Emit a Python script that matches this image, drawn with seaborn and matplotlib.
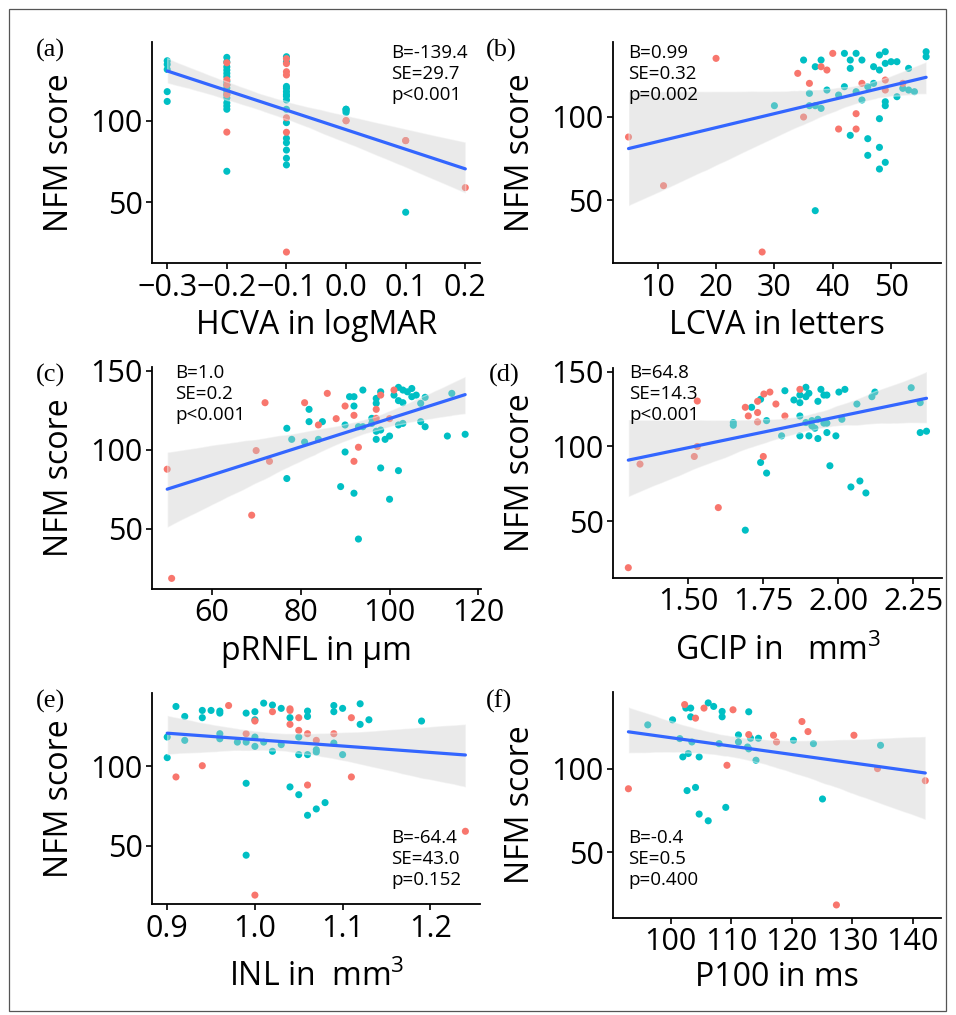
import numpy as np
import pandas as pd
import seaborn as sns
import matplotlib.pyplot as plt
from matplotlib.patches import Rectangle

# ---- data ----
# (a) HCVA in logMAR (many points overlap on the discrete columns)
hcva_cyan_x = [-0.3, -0.3, -0.3, -0.3, -0.3,
               -0.2, -0.2, -0.2, -0.2, -0.2, -0.2, -0.2, -0.2, -0.2, -0.2, -0.2, -0.2, -0.2,
               -0.2, -0.2, -0.2,
               -0.1, -0.1, -0.1, -0.1, -0.1, -0.1, -0.1, -0.1, -0.1, -0.1, -0.1, -0.1, -0.1,
               -0.1, -0.1,
               0.0, 0.0, 0.0, 0.0, 0.1]
hcva_cyan_y = [136.7, 134.5, 131.4, 117.8, 111.8,
               138.8, 136, 133, 131, 129, 127, 124, 120, 114, 111, 109, 107, 69,
               122, 118, 116,
               139.2, 136, 119.8, 117.8, 115, 112.7, 107, 98.8, 89.2, 86.5, 82, 77, 72.9,
               121, 116,
               107, 105, 106, 107, 43.9]
hcva_orange_x = [-0.2, -0.2, -0.2, -0.2, -0.2,
                 -0.1, -0.1, -0.1, -0.1, -0.1, -0.1, -0.1,
                 0.0, 0.0, 0.1, 0.1, 0.2]
hcva_orange_y = [135.5, 125, 122, 116, 93,
                 138, 135, 130, 128, 101.8, 92.9, 19.5,
                 100, 100, 87.8, 87.8, 59]

# (b) LCVA in letters
lcva_cyan_x = [30, 35, 36, 36, 37, 37, 37, 38, 38, 39, 41, 42, 42, 43, 43, 43, 44, 44, 45, 45,
               46, 46, 46, 47, 47, 48, 48, 48, 48, 48, 49, 49, 49, 49, 49, 50, 51, 51, 52, 53,
               53, 54, 56, 56]
lcva_cyan_y = [106.6, 134, 114, 106.6, 130, 106.6, 43.6, 134, 105, 116, 113, 138, 118, 134, 129, 88.8,
               138, 115, 134, 110, 118, 86.8, 76.8, 130, 120, 137, 128, 98.8, 81.6, 68.6,
               139, 132, 109, 106.6, 72.6, 133, 133, 112, 117, 129, 116, 115, 139, 136]
lcva_orange_x = [5, 11, 20, 27.9, 34, 35, 36, 38, 39, 40, 41, 44, 44, 45, 49, 49, 52]
lcva_orange_y = [87.8, 58.6, 135, 18.8, 126, 99.8, 120, 130, 128, 138, 92.6, 101.8, 92.6, 120,
                 122, 116, 120]

# (c) pRNFL in um
prnfl_cyan_x = [76.9, 76.9, 78, 80.9, 81.9, 81.9, 84, 84.9, 89, 90, 90, 91, 92, 92, 92, 93, 93, 94,
                94, 96, 96, 97, 97, 97, 97, 98, 98, 98, 99, 100, 100, 101, 102, 102, 102, 102,
                103, 103, 103, 104, 105, 105, 106, 107, 107, 108, 108, 113, 114, 117]
prnfl_cyan_y = [113.7, 81.9, 106.7, 105, 125.7, 117.9, 106.7, 117.9, 76.8, 115.8, 98.7, 133.7, 133.7,
                127.8, 72.6, 114.7, 43.6, 137.9, 114.7, 120, 116.8, 132.6, 129.5, 111.8, 106.7,
                136.8, 112.6, 88.6, 106.7, 108.8, 68.8, 134.7, 139.6, 131.2, 115.8, 86.9, 137.9,
                129.9, 116.8, 136.8, 138.9, 133.7, 134.7, 129.5, 117.9, 133.3, 114.7, 108.8,
                135.8, 109.9]
prnfl_orange_x = [50, 51, 69, 70, 72, 73, 80.9, 84, 86, 88, 90, 92, 92, 93, 97, 97, 98, 100, 101]
prnfl_orange_y = [87.8, 18.7, 58.7, 99.6, 129.9, 92.8, 129.9, 115.8, 135.8, 119.8, 127.8, 121.9,
                  92.8, 101.7, 125.7, 120, 134.7, 119.8, 137.9]

# (d) GCIP in mm3
gcip_cyan_x = [1.65, 1.65, 1.69, 1.711, 1.741, 1.741, 1.761, 1.761, 1.811, 1.822, 1.852, 1.872,
               1.872, 1.872, 1.872, 1.892, 1.892, 1.892, 1.902, 1.902, 1.912, 1.912, 1.922,
               1.932, 1.932, 1.932, 1.942, 1.952, 1.952, 1.962, 1.962, 1.962, 1.972, 1.992,
               2.002, 2.012, 2.022, 2.042, 2.062, 2.072, 2.092, 2.112, 2.122, 2.243, 2.273,
               2.273, 2.294]
gcip_cyan_y = [116, 114.2, 44, 126.2, 131.6, 89.3, 117.3, 82.2, 107.1, 137.3, 131.1, 134.4, 129.3,
               120.4, 107.1, 139.6, 133.3, 116, 107.1, 135.6, 117.3, 113.8, 112.2, 130.2, 118.2,
               105.3, 138.2, 134.4, 115.6, 134.4, 115.6, 109.3, 87.1, 107.1, 136.4, 118.2, 138.2,
               72.9, 128.4, 76.9, 68.9, 133.3, 136.4, 139.3, 129.3, 109.3, 110.2]
gcip_orange_x = [1.30, 1.339, 1.52, 1.53, 1.53, 1.60, 1.69, 1.70, 1.731, 1.731, 1.731, 1.75,
                 1.752, 1.772, 1.792, 1.822, 1.872]
gcip_orange_y = [18.9, 88.2, 93.3, 100, 130.4, 59.1, 126.2, 120.4, 130.2, 122.7, 116.4, 93.3,
                 135.1, 136.4, 128.4, 120.4, 138.2]

# (e) INL in mm3
inl_cyan_x = [0.90, 0.90, 0.91, 0.92, 0.92, 0.94, 0.94, 0.95, 0.96, 0.96, 0.96, 0.96, 0.98, 0.99,
              0.99, 0.99, 0.99, 1.00, 1.00, 1.00, 1.00, 1.01, 1.01, 1.02, 1.02, 1.03, 1.03, 1.04,
              1.04, 1.05, 1.05, 1.05, 1.06, 1.06, 1.06, 1.06, 1.07, 1.07, 1.07, 1.08, 1.09, 1.09,
              1.09, 1.10, 1.10, 1.12, 1.12, 1.13, 1.19]
inl_cyan_y = [118.5, 105.5, 137.8, 131.5, 116.4, 135.3, 130.7, 135.3, 134.9, 133.6, 120.6, 117.4,
              115.3, 133.6, 115.3, 89.3, 43.9, 134.5, 129.4, 118.5, 112.6, 139.9, 115.3, 138.7,
              109.5, 136.6, 113.7, 130.7, 87.0, 118.5, 107.4, 82.1, 134.9, 131.5, 107.4, 69.1,
              110.5, 109.0, 73.1, 77.1, 138.4, 134.5, 114.7, 136.6, 107.4, 139.5, 126.5, 129.4,
              128.6]
inl_orange_x = [0.91, 0.94, 0.97, 0.99, 1.00, 1.00, 1.02, 1.04, 1.04, 1.04, 1.05, 1.05, 1.06,
                1.06, 1.07, 1.09, 1.11, 1.11, 1.24]
inl_orange_y = [93.3, 100.4, 138.4, 120.6, 128.6, 18.7, 134.5, 136.3, 135.3, 126.5, 130.7, 122.7,
                120.6, 88.2, 116.4, 120.6, 130.7, 93.3, 59.0]

# (f) P100 in ms
p100_cyan_x = [96.2, 100.3, 101.5, 102.0, 102.5, 102.7, 102.9, 103.3, 103.3, 103.5, 104.1, 104.7,
               104.7, 106.2, 106.2, 107.1, 108.0, 108.5, 108.5, 109.1, 111.2, 111.2, 112.7, 112.9,
               112.9, 113.2, 114.5, 114.1, 120.3, 123.6, 125.1, 134.7]
p100_cyan_y = [126.1, 129.1, 117.9, 107.0, 136.1, 86.9, 109.0, 136.1, 130.9, 115.9, 88.8, 107.0,
               72.9, 139.2, 68.9, 137.1, 114.9, 134.1, 130.9, 76.9, 120.1, 115.9, 112.9, 133.9,
               111.8, 118.1, 118.1, 105.0, 116.9, 114.9, 81.9, 113.9]
p100_orange_x = [93.0, 102.3, 104.1, 105.5, 109.3, 110.3, 112.9, 117.0, 117.5, 121.7, 122.7, 130.3,
                 134.2, 127.4, 142.1]
p100_orange_y = [88.0, 138.2, 130.1, 136.1, 102.0, 135.1, 120.3, 119.9, 115.9, 128.1, 122.1, 119.9,
                 100.0, 18.7, 92.8]

tags = ['(a)', '(b)', '(c)', '(d)', '(e)', '(f)']
xlabels = ['HCVA in logMAR', 'LCVA in letters', 'pRNFL in µm',
           'GCIP in   mm$^3$', 'INL in  mm$^3$', 'P100 in ms']
stats = ['B=-139.4\nSE=29.7\np<0.001', 'B=0.99\nSE=0.32\np=0.002', 'B=1.0\nSE=0.2\np<0.001',
         'B=64.8\nSE=14.3\np<0.001', 'B=-64.4\nSE=43.0\np=0.152', 'B=-0.4\nSE=0.5\np=0.400']
xticks = [[-0.3, -0.2, -0.1, 0.0, 0.1, 0.2], [10, 20, 30, 40, 50], [60, 80, 100, 120],
          [1.50, 1.75, 2.00, 2.25], [0.9, 1.0, 1.1, 1.2], [100, 110, 120, 130, 140]]
xtick_fmt = ['{:.1f}', '{:.0f}', '{:.0f}', '{:.2f}', '{:.1f}', '{:.0f}']

sns.set_style('ticks')
plt.rcParams['font.family'] = ['Open Sans', 'DejaVu Sans']
plt.rcParams['axes.unicode_minus'] = True
plt.rcParams['mathtext.fontset'] = 'custom'
plt.rcParams['mathtext.rm'] = 'Open Sans'
for k in ['text.color', 'axes.labelcolor', 'xtick.color', 'ytick.color', 'axes.edgecolor']:
    plt.rcParams[k] = 'black'

W, H = 956, 1015
fig = plt.figure(figsize=(W / 100, H / 100), dpi=100)

# axes boxes in pixels (left, top, right, bottom), measured on the reference
px_boxes = [(152.3, 41.7, 480.2, 263), (612.7, 41.7, 941, 263),
            (152.3, 367.3, 480.5, 588.5), (613.3, 367.7, 941.8, 577.7),
            (152.3, 693, 480.3, 904.3), (613.3, 692, 941, 917.7)]
label_baseline = [334, 334, 660, 660, 986, 986]
xlims = [(-0.325, 0.225), (2.29, 58.55), (46.65, 120.45), (1.25, 2.345), (0.883, 1.257), (90.5, 144.7)]
ylims = [(12.8, 148.4), (12.2, 145), (12.3, 152.3), (12.2, 152.7), (12.9, 146.3), (11.1, 145.7)]
tag_pos = [(36, 39), (486, 39), (36, 364), (489, 364), (36, 690), (486, 690)]
stat_pos = [(391, 44), (628, 44), (175, 364), (629, 364), (391, 829), (628, 829)]

series = [(hcva_cyan_x, hcva_cyan_y, hcva_orange_x, hcva_orange_y),
          (lcva_cyan_x, lcva_cyan_y, lcva_orange_x, lcva_orange_y),
          (prnfl_cyan_x, prnfl_cyan_y, prnfl_orange_x, prnfl_orange_y),
          (gcip_cyan_x, gcip_cyan_y, gcip_orange_x, gcip_orange_y),
          (inl_cyan_x, inl_cyan_y, inl_orange_x, inl_orange_y),
          (p100_cyan_x, p100_cyan_y, p100_orange_x, p100_orange_y)]

pal = {'g1': '#00BFC4', 'g2': '#F8766D'}

for i, (cx, cy, ox, oy) in enumerate(series):
    x0, y0, x1, y1 = px_boxes[i]
    ax = fig.add_axes([x0 / W, 1 - y1 / H, (x1 - x0) / W, (y1 - y0) / H])
    df = pd.DataFrame({'x': cx + ox, 'y': cy + oy,
                       'grp': ['g1'] * len(cx) + ['g2'] * len(ox)})
    sns.scatterplot(data=df, x='x', y='y', hue='grp', palette=pal, s=26,
                    edgecolor='none', legend=False, ax=ax)
    sns.regplot(data=df, x='x', y='y', scatter=False, color='#3366FF', seed=0,
                line_kws={'lw': 2.3}, ax=ax)
    # grey confidence band like ggplot
    band = ax.collections[-1]
    band.set_facecolor('#cccccc')
    band.set_alpha(0.4)
    ax.set_xlim(xlims[i])
    ax.set_ylim(ylims[i])
    ax.set_yticks([t for t in [50, 100, 150] if ylims[i][0] < t < ylims[i][1]])
    ax.set_xticks(xticks[i])
    ax.set_xticklabels([xtick_fmt[i].format(t).replace('-', '\u2212') for t in xticks[i]])
    ax.tick_params(labelsize=22, length=4, width=1.2, pad=3)
    for s in ['left', 'bottom']:
        ax.spines[s].set_linewidth(1.3)
    sns.despine(ax=ax)
    ax.set_xlabel(xlabels[i], fontsize=23)
    ax.xaxis.label.set_va('baseline')
    ax.xaxis.set_label_coords(0.5, (y1 - label_baseline[i]) / (y1 - y0))
    ax.set_ylabel('NFM score', fontsize=23, labelpad=10)
    tx, ty = tag_pos[i]
    fig.text(tx / W, 1 - ty / H, tags[i], family='Liberation Serif', fontsize=19, va='top', ha='left')
    sx, sy = stat_pos[i]
    fig.text(sx / W, 1 - sy / H, stats[i], fontsize=13.5, va='top', ha='left', linespacing=1.2)

fig.add_artist(Rectangle((9 / W, 1 - 1011 / H), 937 / W, 1002 / H, transform=fig.transFigure,
                         fill=False, edgecolor='#555555', lw=0.9))

fig.savefig('out.png', dpi=100, facecolor='white')
